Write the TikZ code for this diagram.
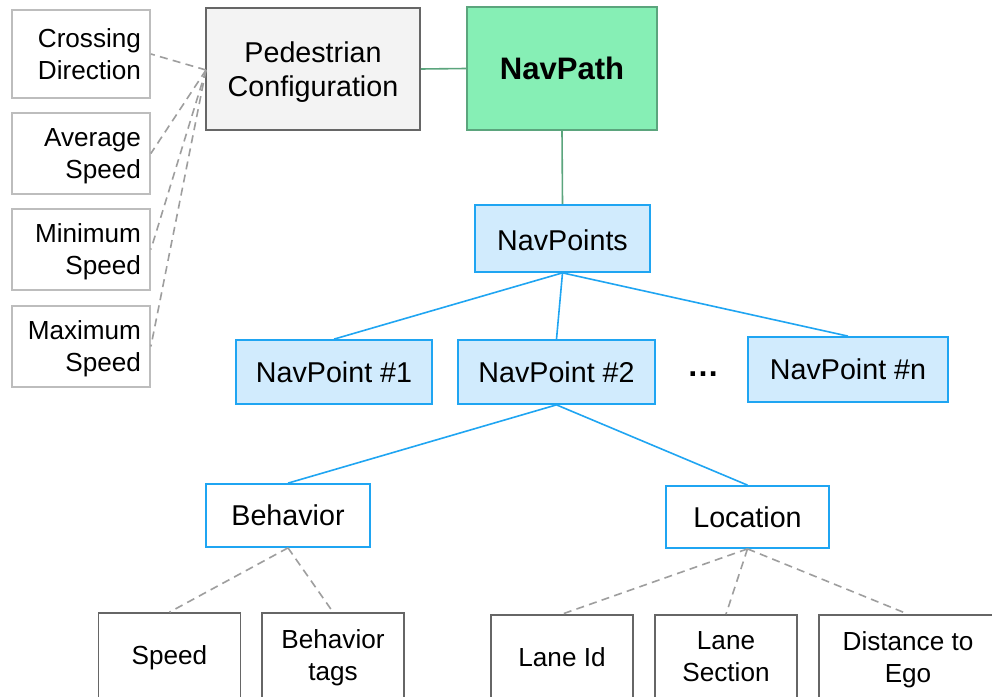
\documentclass[tikz,border=0pt]{standalone}
\usepackage{fontspec}
\setmainfont{Liberation Sans}
\definecolor{gborder}{HTML}{BDBDBD}
\definecolor{dborder}{HTML}{666666}
\definecolor{pedfill}{HTML}{F3F3F3}
\definecolor{pathfill}{HTML}{86EFB5}
\definecolor{pathline}{HTML}{5BA57D}
\definecolor{ptfill}{HTML}{D1EBFD}
\definecolor{ptline}{HTML}{1FA5F2}
\definecolor{dashcol}{HTML}{9E9E9E}
\tikzset{
  base/.style={draw, line width=1.3pt, inner sep=0pt, font=\fontsize{21.5}{25.5}\selectfont, align=center},
  small/.style={font=\fontsize{19.6}{24}\selectfont},
  attr/.style={base, small, draw=gborder, text width=90pt, inner xsep=6.75pt, align=right, minimum height=#1, text depth=24pt},
  leaf/.style={base, small, draw=dborder, fill=white, text depth=3pt},
  ptbox/.style={base, draw=ptline, fill=ptfill},
  subbox/.style={base, draw=ptline, fill=white},
  solidblue/.style={draw=ptline, line width=1.2pt},
  solidgreen/.style={draw=pathline, line width=1.2pt},
  dashgray/.style={draw=dashcol, line width=1.2pt, dash pattern=on 6pt off 4pt},
}
\begin{document}
\begin{tikzpicture}[x=0.75pt, y=-0.75pt]
\useasboundingbox (0,0) rectangle (992,696);
\clip (0,0) rectangle (992,696);
\fill[white] (0,0) rectangle (992,696);
% left attribute boxes
\node[attr=66pt] (cross) at (81,54) {Crossing\\Direction};
\node[attr=60.75pt] (avg) at (81,153.5) {Average\\Speed};
\node[attr=60.75pt] (min) at (81,249.5) {Minimum\\Speed};
\node[attr=60.75pt] (max) at (81,346.5) {Maximum\\Speed};
% top row
\node[base, draw=dborder, fill=pedfill, minimum width=160.5pt, minimum height=91.5pt, text depth=0pt] (ped) at (313,69) {Pedestrian\\Configuration};
\node[base, draw=pathline, fill=pathfill, minimum width=142.5pt, minimum height=92.25pt, font=\fontsize{23.3}{26}\selectfont\bfseries] (path) at (562,68.5) {NavPath};
\node[ptbox, minimum width=131.25pt, minimum height=50.25pt, text height=18.5pt, text depth=0pt] (pts) at (562.5,238.5) {NavPoints};
% navpoints
\node[ptbox, minimum width=147pt, minimum height=48pt] (np1) at (334,372) {NavPoint \#1};
\node[ptbox, minimum width=147.75pt, minimum height=48pt] (np2) at (556.5,372) {NavPoint \#2};
\node[font=\fontsize{24}{24}\selectfont\bfseries, inner sep=0pt] (dots) at (703,374) {…};
\node[ptbox, minimum width=150pt, minimum height=48.75pt] (npn) at (848,369.5) {NavPoint \#n};
% second level
\node[subbox, minimum width=123pt, minimum height=47.25pt] (beh) at (288,515.5) {Behavior};
\node[subbox, minimum width=122.25pt, minimum height=46.5pt] (loc) at (747.5,517) {Location};
% leaves
\node[leaf, minimum width=106.5pt, minimum height=66pt] (speed) at (169.5,657) {Speed};
\node[leaf, minimum width=106.5pt, minimum height=66pt] (btags) at (333,657) {Behavior\\tags};
\node[leaf, minimum width=106.5pt, minimum height=66pt] (lane) at (562,659) {Lane Id};
\node[leaf, minimum width=106.5pt, minimum height=66pt] (lsec) at (726,659) {Lane\\Section};
\node[leaf, minimum width=133.5pt, minimum height=66pt] (dist) at (908,659) {Distance to\\Ego};
% connectors
\coordinate (pedw) at (206,70);
\draw[dashgray] (pedw) -- (cross.east);
\draw[dashgray] (pedw) -- (avg.east);
\draw[dashgray] (pedw) -- (min.east);
\draw[dashgray] (pedw) -- (max.east);
\draw[solidgreen] (ped.east) -- (path.west);
\draw[solidgreen] (path.south) -- (pts.north);
\draw[solidblue] (pts.south) -- (np1.north);
\draw[solidblue] (pts.south) -- (np2.north);
\draw[solidblue] (pts.south) -- (npn.north);
\draw[solidblue] (np2.south) -- (beh.north);
\draw[solidblue] (np2.south) -- (loc.north);
\draw[dashgray] (beh.south) -- (speed.north);
\draw[dashgray] (beh.south) -- (btags.north);
\draw[dashgray] (loc.south) -- (lane.north);
\draw[dashgray] (loc.south) -- (lsec.north);
\draw[dashgray] (loc.south) -- (dist.north);
\end{tikzpicture}
\end{document}
